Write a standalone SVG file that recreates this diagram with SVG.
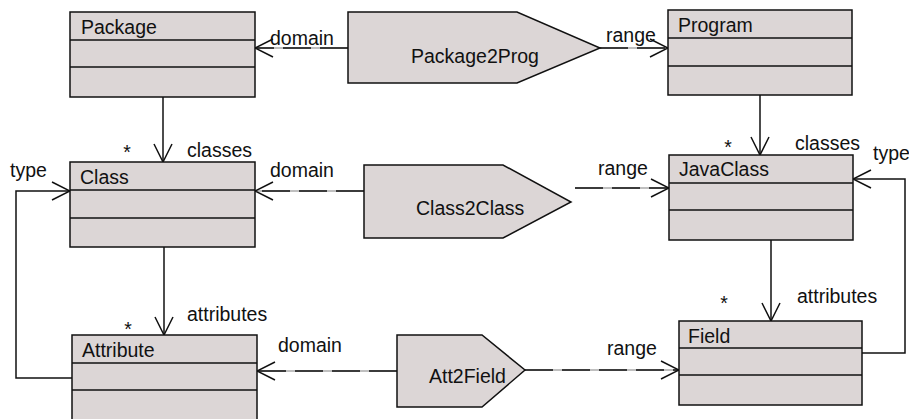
<svg xmlns="http://www.w3.org/2000/svg" width="909" height="419" viewBox="0 0 909 419">
<style>
.box{fill:#dcd6d6;stroke:#111;stroke-width:1.5}
.div{stroke:#111;stroke-width:1.5}
.t{font-family:"Liberation Sans",Arial,sans-serif;font-size:19.5px;fill:#111}
.ln{fill:none;stroke:#111;stroke-width:1.5}
.bg{fill:none;stroke:#aaa;stroke-width:1.5}
.ds{fill:none;stroke:#111;stroke-width:1.5;stroke-dasharray:28 9}
</style>
<defs>
<marker id="open" viewBox="0 0 20 20" refX="19" refY="10" markerWidth="20" markerHeight="20" markerUnits="userSpaceOnUse" orient="auto">
<path d="M1,1 L19,10 L1,19" fill="none" stroke="#111" stroke-width="1.5"/>
</marker>
</defs>
<rect width="909" height="419" fill="#fff"/>
<g id="connectors">
<path class="ln" d="M163,97 V162" marker-end="url(#open)"/>
<path class="ln" d="M760,95 V155" marker-end="url(#open)"/>
<path class="ln" d="M164,247 V335" marker-end="url(#open)"/>
<path class="ln" d="M771,240 V321" marker-end="url(#open)"/>
<path class="ln" d="M72,378 H16 V191 H70" marker-end="url(#open)"/>
<path class="ln" d="M862,353 H905 V179 H853" marker-end="url(#open)"/>
<path class="bg" d="M348,48 H255"/>
<path class="ds" d="M348,48 H255" marker-end="url(#open)"/>
<path class="bg" d="M600,48 H668"/>
<path class="ds" d="M600,48 H668" marker-end="url(#open)"/>
<path class="bg" d="M364,191 H255"/>
<path class="ds" d="M364,191 H255" marker-end="url(#open)"/>
<path class="bg" d="M575,188 H669"/>
<path class="ds" d="M575,188 H669" marker-end="url(#open)"/>
<path class="bg" d="M397,371 H257"/>
<path class="ds" d="M397,371 H257" marker-end="url(#open)"/>
<path class="bg" d="M525,370 H679"/>
<path class="ds" d="M525,370 H679" marker-end="url(#open)"/>
<text class="t" x="270" y="45">domain</text>
<text class="t" x="606" y="42">range</text>
<text class="t" x="728" y="154" text-anchor="middle">*</text>
<text class="t" x="795" y="150">classes</text>
<text class="t" x="873" y="160">type</text>
<text class="t" x="598" y="175">range</text>
<text class="t" x="127" y="159" text-anchor="middle">*</text>
<text class="t" x="187" y="157">classes</text>
<text class="t" x="10" y="177">type</text>
<text class="t" x="270" y="177">domain</text>
<text class="t" x="128" y="336" text-anchor="middle">*</text>
<text class="t" x="187" y="321">attributes</text>
<text class="t" x="278" y="352">domain</text>
<text class="t" x="607" y="355">range</text>
<text class="t" x="724" y="310" text-anchor="middle">*</text>
<text class="t" x="797" y="303">attributes</text>
</g>
<g id="Package">
<rect class="box" x="70" y="12" width="185" height="85"/>
<line class="div" x1="70" y1="40" x2="255" y2="40"/>
<line class="div" x1="70" y1="67" x2="255" y2="67"/>
<text class="t" x="81" y="34">Package</text>
</g>
<g id="Program">
<rect class="box" x="668" y="10" width="184" height="85"/>
<line class="div" x1="668" y1="38" x2="852" y2="38"/>
<line class="div" x1="668" y1="66" x2="852" y2="66"/>
<text class="t" x="678" y="32">Program</text>
</g>
<g id="Class">
<rect class="box" x="70" y="162" width="185" height="85"/>
<line class="div" x1="70" y1="190" x2="255" y2="190"/>
<line class="div" x1="70" y1="218" x2="255" y2="218"/>
<text class="t" x="80" y="184">Class</text>
</g>
<g id="JavaClass">
<rect class="box" x="669" y="155" width="184" height="85"/>
<line class="div" x1="669" y1="183" x2="853" y2="183"/>
<line class="div" x1="669" y1="210" x2="853" y2="210"/>
<text class="t" x="679" y="176">JavaClass</text>
</g>
<g id="Attribute">
<rect class="box" x="72" y="335" width="185" height="90"/>
<line class="div" x1="72" y1="363" x2="257" y2="363"/>
<line class="div" x1="72" y1="390" x2="257" y2="390"/>
<text class="t" x="82" y="357">Attribute</text>
</g>
<g id="Field">
<rect class="box" x="679" y="321" width="183" height="84"/>
<line class="div" x1="679" y1="348" x2="862" y2="348"/>
<line class="div" x1="679" y1="375" x2="862" y2="375"/>
<text class="t" x="688" y="343">Field</text>
</g>
<g id="Package2Prog">
<path class="box" d="M348,12 H517 L600,48 L517,83 H348 Z"/>
<text class="t" x="411" y="63">Package2Prog</text>
</g>
<g id="Class2Class">
<path class="box" d="M364,165 H503 L571,202 L503,238 H364 Z"/>
<text class="t" x="416" y="215">Class2Class</text>
</g>
<g id="Att2Field">
<path class="box" d="M397,335 H482 L525,370 L482,407 H397 Z"/>
<text class="t" x="429" y="383">Att2Field</text>
</g>
</svg>
